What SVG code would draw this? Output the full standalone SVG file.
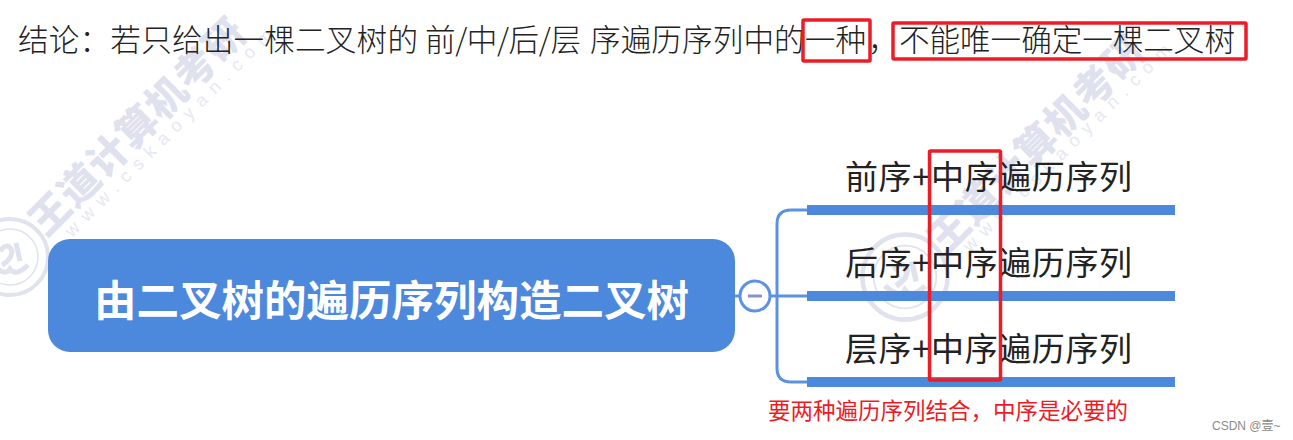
<svg xmlns="http://www.w3.org/2000/svg" width="1293" height="440" viewBox="0 0 1293 440">
<style>
.head{font-family:"Noto Sans CJK SC",sans-serif;font-weight:300;font-size:30.6px;fill:#222}
.leaf{font-family:"Noto Sans CJK SC",sans-serif;font-weight:400;font-size:33px;fill:#222}
.wm{font-family:"Noto Sans CJK SC",sans-serif;font-weight:900;font-size:40px;letter-spacing:1px;fill:#dfe1ee}
.wm2{font-family:"Liberation Sans",sans-serif;font-size:18px;fill:#e6e8f2}
.seal{fill:none;stroke:#e0e2ee}
.conn{fill:none;stroke:#5b93e0;stroke-width:3}
.bar{fill:#4c88db}
.red{fill:none;stroke:#ed1c24;stroke-width:3.5}
</style>
<defs>
<g id="sealmark">
<circle r="38" class="seal" stroke-width="4"/>
<circle r="28" class="seal" stroke-width="1.500"/>
<path class="seal" stroke-width="5" d="M-18 8Q-4 20 0 12Q6 20 18 8M-10 -6Q-2 -16 2 -6Q2 2 -8 8M6 -14L10 4"/>
</g>
</defs>
<rect width="1293" height="440" fill="#fff"/>
<g id="watermark">
<text class="wm" transform="translate(46,238) rotate(-45)">王道计算机考研</text>
<text class="wm2" transform="translate(72,238) rotate(-45)" textLength="285">www.cskaoyan.com</text>
<use href="#sealmark" x="10" y="257"/>
<text class="wm" transform="translate(945,256) rotate(-45)">王道计算机考研</text>
<text class="wm2" transform="translate(970,253) rotate(-45)" textLength="285">www.cskaoyan.com</text>
<use href="#sealmark" transform="translate(905,277) scale(1.120)"/>
</g>
<g id="heading">
<text class="head" x="18" y="51" textLength="400">结论：若只给出一棵二叉树的</text>
<text class="head" x="425" y="51" textLength="156">前/中/后/层</text>
<text class="head" x="590" y="51" textLength="276">序遍历序列中的一种</text>
<text class="head" x="868" y="51">，</text>
<text class="head" x="899" y="51" textLength="336">不能唯一确定一棵二叉树</text>
</g>
<g id="connectors">
<path class="conn" d="M735 296H740M770 296H807"/>
<path class="conn" d="M807 210H791Q777 210 777 224V368Q777 382 791 382H807"/>
</g>
<g id="root">
<rect x="48" y="239" width="687" height="113" rx="22" fill="#4c88db"/>
<text x="94" y="316" font-family="'Noto Sans CJK SC',sans-serif" font-weight="700" font-size="42.500px" fill="#fff">由二叉树的遍历序列构造二叉树</text>
</g>
<g id="collapse">
<circle cx="755" cy="296" r="15" fill="#fff" stroke="#5b93e0" stroke-width="3"/>
<path d="M748 296H762" stroke="#8a93c8" stroke-width="3"/>
</g>
<g id="leaf1">
<rect class="bar" x="807" y="205" width="368" height="10"/>
<text class="leaf" x="845" y="189" textLength="287">前序+中序遍历序列</text>
</g>
<g id="leaf2">
<rect class="bar" x="807" y="291" width="368" height="10"/>
<text class="leaf" x="845" y="275" textLength="287">后序+中序遍历序列</text>
</g>
<g id="leaf3">
<rect class="bar" x="807" y="377" width="368" height="10"/>
<text class="leaf" x="845" y="361" textLength="287">层序+中序遍历序列</text>
</g>
<g id="highlights">
<rect class="red" x="803" y="20" width="67" height="41" rx="1"/>
<rect class="red" x="893" y="23" width="353" height="36" rx="1"/>
<rect class="red" x="929.500" y="151" width="71" height="229" rx="1"/>
</g>
<text x="768" y="419" font-family="'Noto Sans CJK SC',sans-serif" font-size="22.500px" fill="#ed1c24">要两种遍历序列结合，中序是必要的</text>
<text x="1212" y="430" font-family="'Liberation Sans','Noto Sans CJK SC',sans-serif" font-size="12px" fill="#8a8a8a">CSDN @壹~</text>
</svg>
